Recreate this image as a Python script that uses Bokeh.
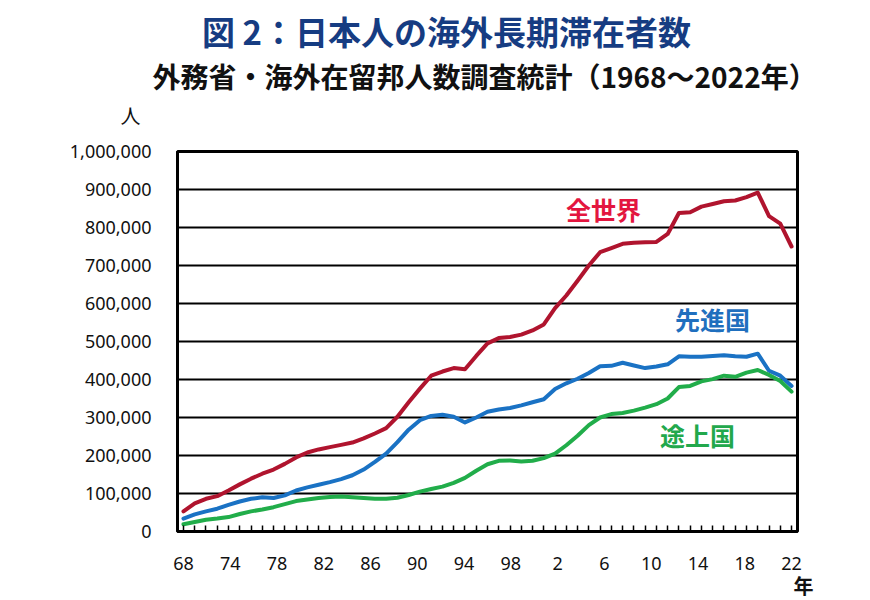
import numpy as np
from bokeh.plotting import figure
from bokeh.models import Range1d, FixedTicker, NumeralTickFormatter, Label, CustomJSTickFormatter
from bokeh.embed import file_html
from bokeh.resources import INLINE

years = list(range(1968, 2023))

world = [53000, 74000, 86000, 93000, 108000, 124000, 139000, 152000, 163000, 178000,
         195000, 208000, 216000, 222000, 228000, 234000, 245000, 258000, 272000, 302000,
         340000, 376000, 410000, 421000, 430000, 427000, 462000, 495000, 509000, 512000,
         518000, 529000, 545000, 588000, 621000, 660000, 700000, 735000, 746000, 757000,
         760000, 761000, 762000, 783000, 838000, 840000, 855000, 862000, 869000, 871000,
         880000, 892000, 830000, 810000, 750000]

developed = [34000, 45000, 53000, 60000, 70000, 79000, 86000, 90000, 88000, 95000,
             108000, 116000, 123000, 130000, 138000, 148000, 163000, 183000, 205000, 235000,
             268000, 293000, 304000, 307000, 302000, 287000, 300000, 315000, 321000, 325000,
             332000, 340000, 348000, 375000, 390000, 402000, 417000, 435000, 436000, 444000,
             437000, 430000, 434000, 440000, 461000, 460000, 460000, 462000, 464000, 461000,
             460000, 468000, 423000, 410000, 383000]

developing = [19000, 25000, 31000, 34000, 38000, 46000, 53000, 58000, 64000, 72000,
              80000, 84000, 88000, 91000, 92000, 90000, 88000, 86000, 86000, 89000,
              96000, 105000, 112000, 118000, 128000, 141000, 160000, 177000, 186000, 187000,
              184000, 186000, 193000, 205000, 227000, 252000, 280000, 300000, 309000, 312000,
              318000, 326000, 335000, 350000, 380000, 383000, 395000, 401000, 410000, 407000,
              418000, 425000, 412000, 396000, 368000]

x_tick_labels = ["68", "74", "78", "82", "86", "90", "94", "98", "2", "6", "10", "14", "18", "22"]
y_ticks = list(range(0, 1000001, 100000))

series_names = ["全世界", "先進国", "途上国"]
line_colors = ["#b0142e", "#1a72c4", "#21ad4a"]
text_colors = ["#e3163f", "#1f6fbe", "#22a84c"]

FONT_CJK = "Noto Sans CJK JP"
FONT_NUM = "Noto Sans"

p = figure(width=870, height=600, output_backend="svg", toolbar_location=None,
           x_range=Range1d(1967.47, 2022.53), y_range=Range1d(0, 1000000),
           min_border_left=177, min_border_right=73, min_border_top=151, min_border_bottom=69,
           background_fill_color="white", border_fill_color="white")

p.outline_line_color = "black"
p.outline_line_width = 3
p.xgrid.visible = False
p.ygrid.grid_line_color = "black"
p.ygrid.grid_line_width = 2
p.ygrid.ticker = FixedTicker(ticks=y_ticks)

# y axis
p.yaxis.ticker = FixedTicker(ticks=y_ticks)
p.yaxis.formatter = NumeralTickFormatter(format="0,0")
p.yaxis.major_tick_in = 0
p.yaxis.major_tick_out = 0
p.yaxis.minor_tick_in = 0
p.yaxis.minor_tick_out = 0
p.yaxis.axis_line_color = "black"
p.yaxis.axis_line_width = 3
p.yaxis.major_label_standoff = 26
p.yaxis.major_label_text_font = FONT_NUM
p.yaxis.major_label_text_font_size = "18px"
p.yaxis.major_label_text_color = "#111111"

# x axis
label_pos = [float(v) for v in np.linspace(years[0], years[-1], len(x_tick_labels))]
p.xaxis.ticker = FixedTicker(ticks=label_pos, minor_ticks=years)
p.xaxis.formatter = CustomJSTickFormatter(args=dict(labels=x_tick_labels), code="return labels[index]")
p.xaxis.major_tick_in = 0
p.xaxis.major_tick_out = 0
p.xaxis.minor_tick_in = 6
p.xaxis.minor_tick_out = 0
p.xaxis.minor_tick_line_color = "black"
p.xaxis.minor_tick_line_width = 1.5
p.xaxis.axis_line_color = "black"
p.xaxis.axis_line_width = 3
p.xaxis.major_label_standoff = 25
p.xaxis.major_label_text_font = FONT_NUM
p.xaxis.major_label_text_font_size = "18px"
p.xaxis.major_label_text_color = "#111111"

for vals, col in zip([world, developed, developing], line_colors):
    p.line(years, vals, line_color=col, line_width=4, line_join="round", line_cap="round")

def make_label(x, y, text, size, color, bold=True, align="center", units="screen"):
    return Label(x=x, y=y, x_units=units, y_units=units, text=text,
                 text_font=FONT_CJK, text_font_size=size,
                 text_font_style="bold" if bold else "normal",
                 text_color=color, text_align=align, text_baseline="middle")

# texts outside the frame: canvas units, kept in side panels so they are not clipped
p.add_layout(make_label(446, 30, "図 2：日本人の海外長期滞在者数", "33px", "#163c82", units="canvas"), "above")
p.add_layout(make_label(152, 75, "外務省・海外在留邦人数調査統計（1968～2022年）", "28px", "#111111",
                        align="left", units="canvas"), "above")
p.add_layout(make_label(130, 115, "人", "20px", "#111111", bold=False, units="canvas"), "left")
p.add_layout(make_label(803, 585, "年", "20px", "#111111", units="canvas"), "right")

# series labels inside the frame (screen units, relative to the frame)
label_xy = [(426, 323), (535, 213), (520, 97)]
for name, col, (lx, ly) in zip(series_names, text_colors, label_xy):
    p.add_layout(make_label(lx, ly, name, "25px", col))

open("out.html", "w").write(file_html(p, INLINE))
